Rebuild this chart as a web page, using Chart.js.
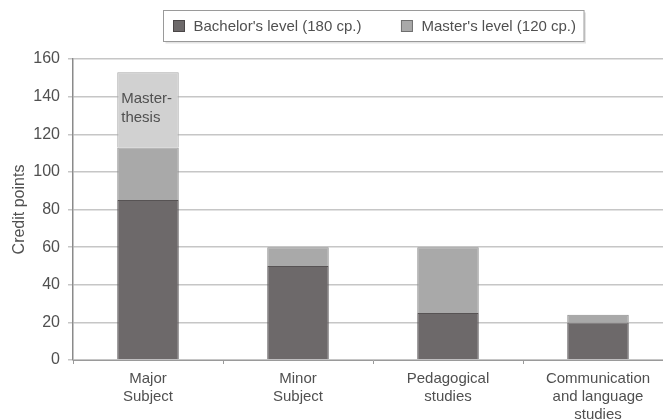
<!DOCTYPE html>
<html>
<head>
<meta charset="utf-8">
<script src="https://cdn.jsdelivr.net/npm/chart.js@4/dist/chart.umd.min.js"></script>
<style>
  html, body { margin: 0; padding: 0; background: #fff; overflow: hidden; }
  #wrap { width: 663px; height: 420px; overflow: hidden; }
  canvas { display: block; }
</style>
</head>
<body>
<div id="wrap"><canvas id="c" width="676" height="420"></canvas></div>
<script>
// Study programme structure: credit points per study area
const categories = [
  ["Major", "Subject"],
  ["Minor", "Subject"],
  ["Pedagogical", "studies"],
  ["Communication", "and language", "studies"]
];
const bachelorCredits = [85, 50, 25, 20];
const masterCredits = [28, 10, 35, 4];
const masterThesisCredits = [40, 0, 0, 0];
const seriesNames = ["Bachelor's level (180 cp.)", "Master's level (120 cp.)", "Master-thesis"];
const thesisNote = ["Master-", "thesis"];
const yMax = 160;
const yStep = 20;

const FONT = '"Liberation Sans", Arial, Helvetica, sans-serif';
const TEXT = '#505050';
const colors = {
  bachelor: '#6d696a', bachelorEdge: '#575354',
  master: '#a9a9a9', masterEdge: '#8e8e8e',
  thesis: '#d1d1d1', thesisEdge: '#a9a9a9'
};

// Boxed legend centred above the plot area
const legendBox = {
  id: 'legendBox',
  afterDraw(chart) {
    const ctx = chart.ctx;
    const a = chart.chartArea;
    ctx.save();
    ctx.font = '15px ' + FONT;
    const items = [
      { text: seriesNames[0], fill: colors.bachelor, edge: '#4a4647' },
      { text: seriesNames[1], fill: colors.master, edge: '#6e6e6e' }
    ];
    const pad = 10, sq = 11, gap = 9, between = 40, padR = 8;
    const widths = items.map(i => ctx.measureText(i.text).width);
    const total = pad + sq + gap + widths[0] + between + sq + gap + widths[1] + padR;
    const left = Math.round((a.left + a.right) / 2 - total / 2) + 0.5;
    const top = 10.5, h = 31;
    ctx.fillStyle = '#e4e4e4';
    ctx.fillRect(left + 2, top + 2, total, h);
    ctx.fillStyle = '#fff';
    ctx.fillRect(left, top, total, h);
    ctx.strokeStyle = '#9a9a9a';
    ctx.lineWidth = 1;
    ctx.strokeRect(left, top, total, h);
    const cy = top + h / 2;
    let x = left + pad;
    items.forEach((it, i) => {
      ctx.fillStyle = it.fill;
      ctx.fillRect(x, cy - sq / 2, sq, sq);
      ctx.strokeStyle = it.edge;
      ctx.strokeRect(x, cy - sq / 2, sq, sq);
      x += sq + gap;
      ctx.fillStyle = TEXT;
      ctx.textBaseline = 'middle';
      ctx.textAlign = 'left';
      ctx.fillText(it.text, x, cy + 1);
      x += widths[i] + between;
    });
    ctx.restore();
  }
};

// Note written inside the thesis segment of the first bar
const thesisLabel = {
  id: 'thesisLabel',
  afterDatasetsDraw(chart) {
    const bar = chart.getDatasetMeta(2).data[0];
    if (!bar) return;
    const ctx = chart.ctx;
    const left = bar.x - bar.width / 2;
    ctx.save();
    ctx.font = '15px ' + FONT;
    ctx.fillStyle = '#505050';
    ctx.textAlign = 'left';
    ctx.textBaseline = 'middle';
    ctx.fillText(thesisNote[0], left + 4, bar.y + 27);
    ctx.fillText(thesisNote[1], left + 4, bar.y + 46);
    ctx.restore();
  }
};

new Chart(document.getElementById('c'), {
  type: 'bar',
  data: {
    labels: categories,
    datasets: [
      { label: seriesNames[0], data: bachelorCredits, backgroundColor: colors.bachelor,
        borderColor: colors.bachelorEdge, borderWidth: 1, stack: 'cp' },
      { label: seriesNames[1], data: masterCredits, backgroundColor: colors.master,
        borderColor: colors.masterEdge, borderWidth: 1, stack: 'cp' },
      { label: seriesNames[2], data: masterThesisCredits, backgroundColor: colors.thesis,
        borderColor: colors.thesisEdge, borderWidth: 1, stack: 'cp' }
    ]
  },
  options: {
    responsive: false,
    animation: false,
    layout: { padding: { top: 59, right: 3, bottom: 0, left: 0 } },
    datasets: { bar: { categoryPercentage: 1, barPercentage: 0.41 } },
    plugins: { legend: { display: false }, tooltip: { enabled: false } },
    scales: {
      x: {
        stacked: true,
        afterFit(scale) { scale.height = 60; },
        grid: { drawOnChartArea: false, drawTicks: true, tickLength: 4, color: '#9a9a9a' },
        border: { display: true, color: '#9a9a9a', width: 1 },
        ticks: { color: TEXT, font: { family: FONT, size: 15, lineHeight: 1.2 }, padding: 6, maxRotation: 0 }
      },
      y: {
        stacked: true,
        min: 0,
        max: yMax,
        afterFit(scale) { scale.width = 73; },
        grid: { color: '#c6c6c6', lineWidth: 1.5, tickLength: 5, drawTicks: true },
        border: { display: true, color: '#8a8a8a', width: 1.5 },
        ticks: { stepSize: yStep, color: TEXT, font: { family: FONT, size: 16 }, padding: 8 },
        title: { display: true, text: 'Credit points', color: TEXT,
                 font: { family: FONT, size: 16 }, padding: { top: 10, bottom: 0 } }
      }
    }
  },
  plugins: [legendBox, thesisLabel]
});
</script>
</body>
</html>
